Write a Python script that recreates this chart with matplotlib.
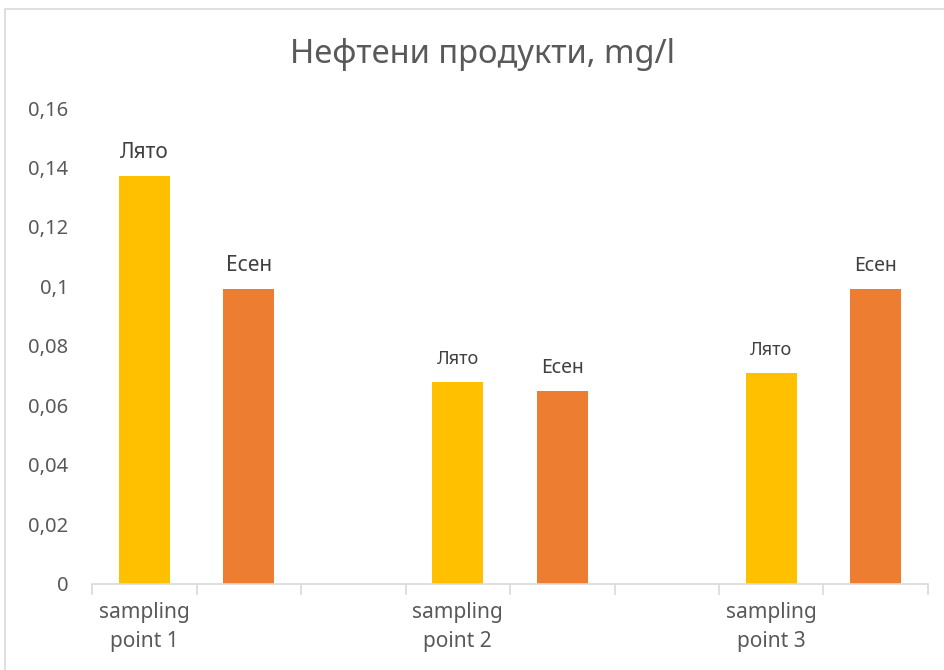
import matplotlib.pyplot as plt
import matplotlib.patches as patches
from matplotlib.ticker import FixedLocator, FuncFormatter

plt.rcParams['font.family'] = ['Noto Sans', 'DejaVu Sans']

# Данни по пунктове
points = ['sampling\npoint 1', 'sampling\npoint 2', 'sampling\npoint 3']
summer = [0.137, 0.068, 0.071]
autumn = [0.099, 0.065, 0.099]
summer_name = 'Лято'
autumn_name = 'Есен'
summer_label_sizes = [15, 13, 13]
autumn_label_sizes = [15, 14, 14]

y_ticks = [0, 0.02, 0.04, 0.06, 0.08, 0.1, 0.12, 0.14, 0.16]

text_color = '#595959'
grid_color = '#D9D9D9'

fig = plt.figure(figsize=(9.45, 6.7), dpi=100)
ax = fig.add_axes([0.0974, 0.1284, 0.8846, 0.7104])

# Всеки пункт заема три позиции: лято, есен и празно място (без последното)
n_slots = 3 * len(points) - 1
summer_x = [3 * i for i in range(len(points))]
autumn_x = [3 * i + 1 for i in range(len(points))]
bar_w = 0.49

ax.bar(summer_x, summer, width=bar_w, color='#FFC000')
ax.bar(autumn_x, autumn, width=bar_w, color='#ED7D31')

for i in range(len(points)):
    ax.annotate(summer_name, (summer_x[i], summer[i]), xytext=(0, 13),
                textcoords='offset points', ha='center', va='baseline',
                fontsize=summer_label_sizes[i], color='#404040')
    ax.annotate(autumn_name, (autumn_x[i], autumn[i]), xytext=(0, 13),
                textcoords='offset points', ha='center', va='baseline',
                fontsize=autumn_label_sizes[i], color='#404040')

ax.set_xlim(-0.5, n_slots - 0.5)
ax.set_ylim(0, 0.16)

ax.set_yticks(y_ticks)
ax.yaxis.set_major_formatter(FuncFormatter(lambda v, p: ('%g' % round(v, 2)).replace('.', ',')))
ax.tick_params(axis='y', length=0, pad=17, labelsize=14.5, labelcolor=text_color)

ax.set_xticks(summer_x)
ax.set_xticklabels(points, linespacing=1.5)
ax.tick_params(axis='x', which='major', length=0, pad=13, labelsize=15, labelcolor=text_color)
ax.xaxis.set_minor_locator(FixedLocator([k - 0.5 for k in range(n_slots + 1)]))
ax.tick_params(axis='x', which='minor', length=8, width=1.2, color=grid_color, direction='out')

for side in ['left', 'right', 'top']:
    ax.spines[side].set_visible(False)
ax.spines['bottom'].set_color(grid_color)
ax.spines['bottom'].set_linewidth(1.2)

fig.text(0.511, 0.918, 'Нефтени продукти, mg/l', ha='center', va='center',
         fontsize=23.5, color=text_color)

# Рамка около диаграмата
frame = patches.Rectangle((5 / 945, -0.01), 1.0, 1 - 9 / 670 + 0.01,
                          transform=fig.transFigure, fill=False,
                          edgecolor=grid_color, linewidth=1.2)
fig.patches.append(frame)

fig.savefig('out.png', dpi=100)
